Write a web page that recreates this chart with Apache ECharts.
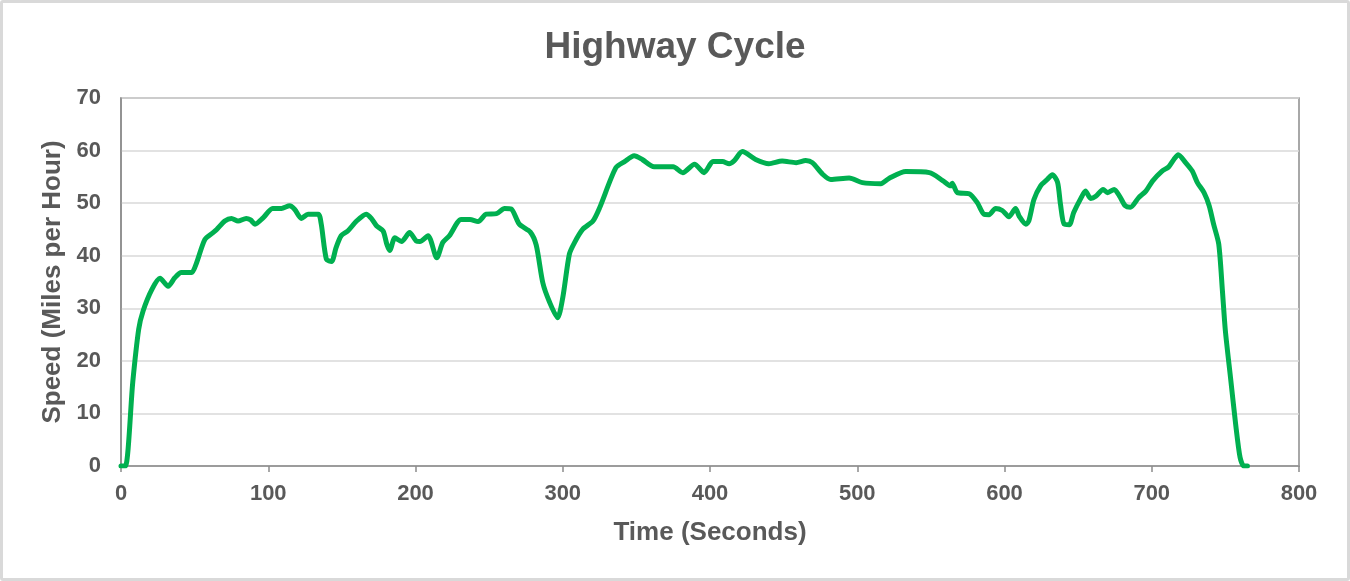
<!doctype html>
<html lang="en">
<head>
    <meta charset="UTF-8">
    <title>Highway Cycle</title>
    <style>
        html, body {margin: 0; padding: 0; background: #fff;}
        #chart {position: absolute; left: 0; top: 0; width: 1350px; height: 581px;}
        #frame {position: absolute; left: 0; top: 0; width: 1350px; height: 581px;
                box-sizing: border-box; border: 3px solid #d9d9d9; border-radius: 3px; pointer-events: none;}
    </style>
</head>
<body>
<div id="chart"></div>
<div id="frame"></div>
<script src="https://cdn.jsdelivr.net/npm/echarts@6/dist/echarts.min.js"></script>
<script>
    // time (s) and speed (mph)
    var times = [0, 3, 8, 12, 15, 21, 26.5, 32, 36.5, 41, 48, 51, 57, 62.5, 65, 70.5, 75, 79.5, 85, 88,
        91, 96.5, 103, 109, 114.5, 118, 122.5, 127, 134, 136, 139.5, 143, 146, 149.5, 154, 160, 166.5, 170,
        173.5, 178, 180.5, 182.5, 186, 190.5, 196, 200.5, 203, 208.5, 214.5, 218.5, 223, 231, 237, 242.5,
        248, 255, 260.5, 265, 270.5, 278, 282, 286.5, 291, 296.5, 300, 304.5, 308, 313.5, 320.5, 325, 336,
        342, 348.5, 354, 362, 375, 381.5, 389.5, 396, 402, 408.5, 413, 416.5, 422, 431, 440, 449, 458.5,
        465, 469.5, 476.5, 482, 494.5, 503.5, 516, 521.5, 533, 549, 558, 563.5, 564.5, 568, 576, 581.5,
        586, 589.5, 594, 598.5, 603, 607.5, 610, 614.5, 616.5, 620, 624.5, 629, 632.5, 636, 638, 640.5,
        644, 647, 652, 655, 658.5, 662, 667, 670, 674.5, 678, 682, 685.5, 691, 696, 700.5, 707, 711.5,
        715, 718, 723, 727.5, 731, 735.5, 739, 742, 745.5, 748, 750, 753.5, 757, 760, 762.5, 765];
    var speeds = [0, 0, 16, 26, 29.5, 33.6, 35.7, 34.2, 35.8, 36.8, 36.8, 38.4, 43.1, 44.4, 45, 46.6, 47.1, 46.6, 47.1, 46.8,
        46.0, 47.2, 49.0, 49.0, 49.5, 48.8, 47.1, 47.9, 47.9, 46, 39.3, 38.9, 41.5, 43.8, 44.7, 46.6, 47.9, 47.1,
        45.7, 44.7, 42.2, 41.0, 43.4, 42.7, 44.4, 42.8, 42.7, 43.8, 39.6, 42.5, 43.8, 46.9, 46.9, 46.5,
        47.9, 48, 49, 48.9, 46, 44.5, 42, 34.8, 31.2, 28.2, 32, 40.3, 42.5, 45, 46.6, 49.1, 56.7,
        57.9, 59, 58.3, 56.9, 56.9, 55.8, 57.4, 55.8, 57.9, 57.9, 57.5, 58.1, 59.8, 58.3, 57.5, 58, 57.7,
        58.1, 57.7, 55.5, 54.5, 54.8, 53.9, 53.7, 54.7, 56, 55.8, 54.3, 53.3, 53.8, 52, 51.8, 50.1,
        47.9, 47.8, 49, 48.6, 47.4, 49, 47.5, 46, 46.6, 50.7, 53.3, 54.5, 55.4, 54, 49.8, 46,
        45.9, 48.2, 51, 52.3, 50.9, 51.3, 52.6, 52, 52.6, 51.4, 49.5, 49.2, 51, 52.3, 54.2, 56.1, 56.9,
        58.3, 59.2, 57.7, 56.1, 53.9, 52, 49.5, 46, 42.2, 33.3, 25.7, 16.8, 7.9, 1.6, 0, 0];

    var textColor = '#595959';
    var fontFamily = '"Liberation Sans", Arial, sans-serif';

    var points = times.map(function (t, i) { return [t, speeds[i]]; });

    var chart = echarts.init(document.getElementById('chart'));
    chart.setOption({
        animation: false,
        title: {
            text: 'Highway Cycle',
            left: 'center',
            top: 24,
            textStyle: {fontSize: 37, fontWeight: 'bold', color: textColor, fontFamily: fontFamily}
        },
        grid: {
            left: 121, top: 98, right: 51, bottom: 115,
            show: true, borderColor: '#8c8c8c', borderWidth: 1.5, backgroundColor: 'transparent'
        },
        xAxis: {
            type: 'value',
            min: 0, max: 800, interval: 100,
            name: 'Time (Seconds)',
            nameLocation: 'middle',
            nameGap: 54,
            nameTextStyle: {fontSize: 26, fontWeight: 'bold', color: textColor, fontFamily: fontFamily},
            axisLine: {show: true, lineStyle: {color: '#8c8c8c', width: 1.5}},
            axisTick: {show: true, length: 6, lineStyle: {color: '#8c8c8c', width: 1.5}},
            axisLabel: {fontSize: 22, fontWeight: 'bold', color: textColor, fontFamily: fontFamily, margin: 17},
            splitLine: {show: false}
        },
        yAxis: {
            type: 'value',
            min: 0, max: 70, interval: 10,
            name: 'Speed (Miles per Hour)',
            nameLocation: 'middle',
            nameGap: 55,
            nameTextStyle: {fontSize: 26, fontWeight: 'bold', color: textColor, fontFamily: fontFamily},
            axisLine: {show: true, lineStyle: {color: '#8c8c8c', width: 1.5}},
            axisTick: {show: false},
            axisLabel: {fontSize: 22, fontWeight: 'bold', color: textColor, fontFamily: fontFamily, margin: 20},
            splitLine: {show: true, lineStyle: {color: '#d9d9d9', width: 1.5}}
        },
        series: [{
            type: 'line',
            data: points,
            showSymbol: false,
            smooth: 0.25,
            lineStyle: {color: '#00B050', width: 5, cap: 'round', join: 'round'}
        }]
    });
</script>
</body>
</html>
